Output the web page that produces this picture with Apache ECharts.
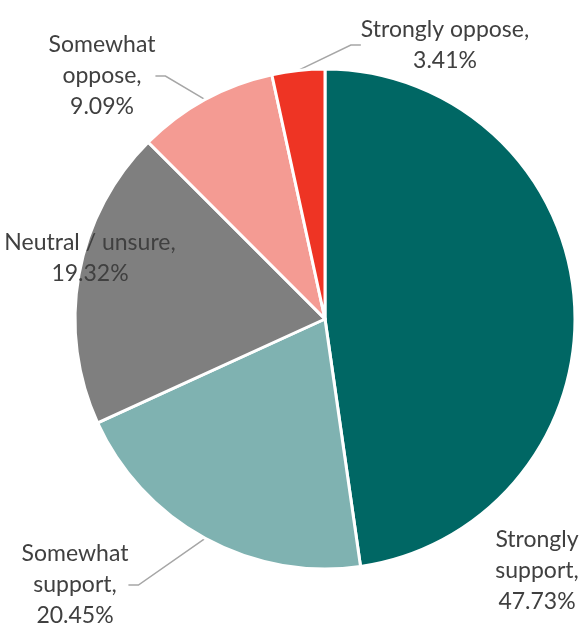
<!DOCTYPE html>
<html>
<head>
<meta charset="utf-8">
<script src="https://cdn.jsdelivr.net/npm/echarts@6/dist/echarts.min.js"></script>
<style>
  html, body { margin: 0; padding: 0; background: #fff; }
  #chart { width: 585px; height: 628px; }
</style>
</head>
<body>
<div id="chart"></div>
<script>
const categories = ['Strongly support', 'Somewhat support', 'Neutral / unsure', 'Somewhat oppose', 'Strongly oppose']
const values = [47.73, 20.45, 19.32, 9.09, 3.41]
const colors = ['#006764', '#7fb2b1', '#7f7f7f', '#f49b93', '#ee3424']
const labelText = [
  'Strongly\nsupport,\n47.73%',
  'Somewhat\nsupport,\n20.45%',
  'Neutral / unsure,\n19.32%',
  'Somewhat\noppose,\n9.09%',
  'Strongly oppose,\n3.41%'
]
// label block centres
const labelPos = [[537, 571], [75, 585], [90, 258], [102, 76], [445, 45]]
const showLine = [false, true, false, true, true]

const chart = echarts.init(document.getElementById('chart'))

const option = {
  animation: false,
  series: [{
    type: 'pie',
    center: [325, 319],
    radius: [0, 250],
    startAngle: 90,
    clockwise: true,
    itemStyle: { borderColor: '#fff', borderWidth: 3 },
    label: {
      show: true,
      position: 'outside',
      overflow: 'none',
      fontFamily: 'Lato',
      fontSize: 23,
      lineHeight: 31,
      color: '#404040',
      align: 'center',
      formatter: p => labelText[p.dataIndex]
    },
    labelLine: {
      show: true,
      length: 10,
      length2: 10,
      lineStyle: { color: '#a6a6a6', width: 1.5 }
    },
    labelLayout: p => ({
      x: labelPos[p.dataIndex][0],
      y: labelPos[p.dataIndex][1],
      align: 'center',
      verticalAlign: 'middle'
    }),
    data: categories.map((c, i) => ({
      name: c,
      value: values[i],
      itemStyle: { color: colors[i] },
      labelLine: { show: showLine[i] }
    }))
  }]
}

chart.setOption(option)
</script>
</body>
</html>
